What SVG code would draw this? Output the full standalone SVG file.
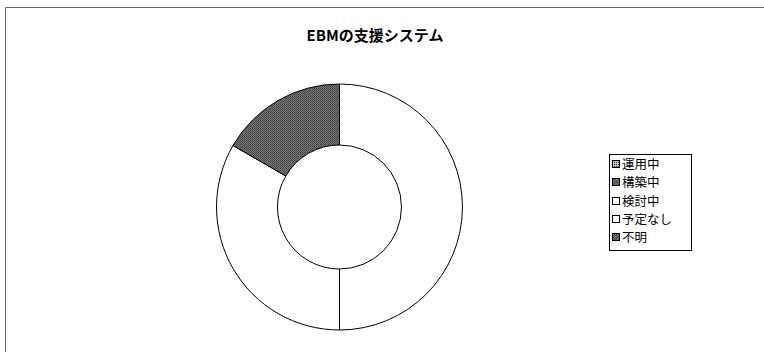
<svg xmlns="http://www.w3.org/2000/svg" width="764" height="352" viewBox="0 0 764 352">
<style>
.seg{stroke:#000;stroke-width:1}
.lg{font-family:"Noto Sans CJK JP","Liberation Sans",sans-serif;font-size:12.5px;fill:#000}
.mk{stroke:#000;stroke-width:1}
</style>
<defs>
<pattern id="dots" width="2" height="2" patternUnits="userSpaceOnUse">
<rect width="2" height="2" fill="#777"/>
<rect width="1" height="1" fill="#3e3e3e"/>
<rect x="1" y="1" width="1" height="1" fill="#505050"/>
</pattern>
<pattern id="light" width="2" height="2" patternUnits="userSpaceOnUse">
<rect width="2" height="2" fill="#bbb"/>
<rect width="1" height="1" fill="#555"/>
</pattern>
</defs>
<rect width="764" height="352" fill="#fff"/>
<g id="frame">
<path d="M5.5 352 V7.5 H764" fill="none" stroke="#666" stroke-width="1"/>
</g>
<text id="title" x="375" y="41" text-anchor="middle" font-family="Noto Sans CJK JP,Liberation Sans,sans-serif" font-size="15" font-weight="bold">EBMの支援システム</text>
<g id="donut">
<g id="seg-kentou"><path class="seg" fill="#fff" d="M339.5 84 A123 123 0 0 1 339.5 330 L339.5 269 A62 62 0 0 0 339.5 145 Z"/></g>
<g id="seg-yotei"><path class="seg" fill="#fff" d="M339.5 330 A123 123 0 0 1 233 145.5 L285.8 176 A62 62 0 0 0 339.5 269 Z"/></g>
<g id="seg-fumei"><path class="seg" fill="url(#dots)" d="M233 145.5 A123 123 0 0 1 339.5 84 L339.5 145 A62 62 0 0 0 285.8 176 Z"/></g>
</g>
<g id="legend">
<rect x="609.5" y="154.5" width="82" height="96" fill="#fff" stroke="#000" stroke-width="1"/>
<g id="lg1"><rect class="mk" x="612.5" y="160.5" width="7" height="7" fill="url(#light)"/><text class="lg" x="622" y="169">運用中</text></g>
<g id="lg2"><rect class="mk" x="612.5" y="178.5" width="7" height="7" fill="url(#dots)"/><text class="lg" x="622" y="187">構築中</text></g>
<g id="lg3"><rect class="mk" x="612.5" y="197.5" width="7" height="7" fill="#fff"/><text class="lg" x="622" y="206">検討中</text></g>
<g id="lg4"><rect class="mk" x="612.5" y="215.5" width="7" height="7" fill="#fff"/><text class="lg" x="622" y="224">予定なし</text></g>
<g id="lg5"><rect class="mk" x="612.5" y="233.5" width="7" height="7" fill="url(#dots)"/><text class="lg" x="622" y="242">不明</text></g>
</g>
</svg>
